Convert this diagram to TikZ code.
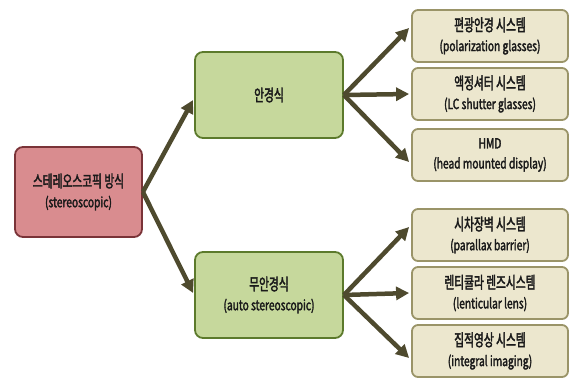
\documentclass[tikz,border=0pt]{standalone}
\usepackage{fontspec}
\setmainfont{Noto Sans CJK KR}[FakeStretch=0.73,FakeBold=2.2]
\newfontfamily\krfont{Noto Sans CJK KR}[FakeStretch=0.65,FakeBold=2.2]
\newcommand{\kr}[1]{{\krfont\fontsize{16.5}{20}\selectfont #1}}
\usetikzlibrary{arrows.meta}
\definecolor{redfill}{HTML}{D98C8F}
\definecolor{redline}{HTML}{7A3338}
\definecolor{greenfill}{HTML}{C6D89C}
\definecolor{greenline}{HTML}{5C7A2C}
\definecolor{tanfill}{HTML}{ECE7CE}
\definecolor{tanline}{HTML}{9A9468}
\definecolor{arrowcol}{HTML}{4E4A2E}
\definecolor{txt}{HTML}{1A1A1A}
\tikzset{
  box/.style={rounded corners=8pt, line width=1.8pt, align=center, text=txt,
    font=\fontsize{14}{20}\selectfont, inner sep=0pt},
  rootbox/.style={box, fill=redfill, draw=redline, minimum width=127pt, minimum height=90pt},
  midbox/.style={box, fill=greenfill, draw=greenline, minimum width=148pt, minimum height=86pt},
  leafbox/.style={box, rounded corners=6pt, fill=tanfill, draw=tanline, minimum width=156pt, minimum height=52pt},
  conn/.style={draw=arrowcol, line width=4.5pt, -{Triangle[length=13pt,width=13pt]}},
}
\begin{document}
\begin{tikzpicture}[x=1pt,y=-1pt]
\useasboundingbox (0,0) rectangle (573,378);
\node[rootbox] (root) at (78.5,192) {\kr{스테레오스코픽 방식}\\(stereoscopic)};
\node[midbox] (g1) at (269,95) {\kr{안경식}};
\node[midbox] (g2) at (269,295) {\kr{무안경식}\\(auto stereoscopic)};
\node[leafbox] (b1) at (490,36) {\kr{편광안경 시스템}\\(polarization glasses)};
\node[leafbox] (b2) at (490,94) {\kr{액정셔터 시스템}\\(LC shutter glasses)};
\node[leafbox] (b3) at (490,155) {HMD\\(head mounted display)};
\node[leafbox] (b4) at (490,235) {\kr{시차장벽 시스템}\\(parallax barrier)};
\node[leafbox] (b5) at (490,293) {\kr{렌티큘라 렌즈시스템}\\(lenticular lens)};
\node[leafbox] (b6) at (490,351) {\kr{집적영상 시스템}\\(integral imaging)};
\draw[conn] (root.east) -- ([xshift=-1pt,yshift=-5pt]g1.west);
\draw[conn] (root.east) -- ([xshift=-1pt,yshift=2pt]g2.west);
\draw[conn] (g1.east) -- ([xshift=-2pt,yshift=8pt]b1.west);
\draw[conn] (g1.east) -- ([xshift=-2pt]b2.west);
\draw[conn] (g1.east) -- ([xshift=-2pt,yshift=-7pt]b3.west);
\draw[conn] (g2.east) -- ([xshift=-2pt,yshift=8pt]b4.west);
\draw[conn] (g2.east) -- ([xshift=-2pt]b5.west);
\draw[conn] (g2.east) -- ([xshift=-2pt,yshift=-7pt]b6.west);
\end{tikzpicture}
\end{document}
